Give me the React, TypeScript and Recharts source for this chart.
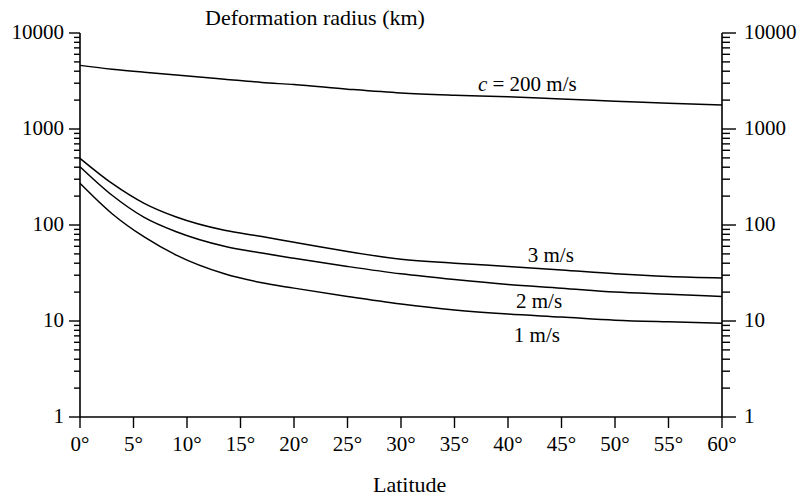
import { LineChart, Line, XAxis, YAxis, ReferenceDot } from 'recharts';

// latitude (deg) and deformation radius (km)
const latitudes = [0, 3, 6, 9, 13.5, 17, 20, 25, 30, 35, 40, 45, 50, 55, 60];
const radius200 = [4600, 4200, 3900, 3650, 3300, 3050, 2900, 2600, 2370, 2250, 2170, 2050, 1950, 1850, 1780];
const radius3 = [495, 271, 168, 121, 88, 76, 66, 53, 44, 40, 37, 34, 31, 29, 28];
const radius2 = [405, 204, 120, 85, 60, 51, 45, 37, 31, 27, 24, 22, 20, 19, 18];
const radius1 = [272, 131, 75, 48.5, 31, 25, 22, 18, 15, 13, 11.8, 11, 10.2, 9.8, 9.5];

const xTicks = [0, 5, 10, 15, 20, 25, 30, 35, 40, 45, 50, 55, 60];
const majorTicks = [1, 10, 100, 1000, 10000];
const minorTicks = [
  2, 3, 4, 5, 6, 7, 8, 9,
  20, 30, 40, 50, 60, 70, 80, 90,
  200, 300, 400, 500, 600, 700, 800, 900,
  2000, 3000, 4000, 5000, 6000, 7000, 8000, 9000,
];

// curve labels: [latitude, radius, text]
const curveLabels: [number, number, string][] = [
  [41.8, 3000, '200'],
  [44.0, 48.7, '3 m/s'],
  [42.9, 16.2, '2 m/s'],
  [42.7, 7.15, '1 m/s'],
];

const data = latitudes.map((lat, i) => ({
  lat,
  c200: radius200[i],
  c3: radius3[i],
  c2: radius2[i],
  c1: radius1[i],
}));

const FONT = '"Liberation Serif", "Times New Roman", serif';
const allYTicks = [...majorTicks, ...minorTicks].sort((a, b) => a - b);

const LeftTick = (props: any) => {
  const { x, y, payload } = props;
  const major = majorTicks.includes(payload.value);
  return (
    <g>
      <line x1={x - (major ? 11 : 6)} x2={x} y1={y} y2={y} stroke="#000" strokeWidth={1.4} />
      {major && (
        <text x={x - 16} y={y} dy="0.28em" textAnchor="end" fill="#000" fontSize={21} fontFamily={FONT}>
          {payload.value}
        </text>
      )}
    </g>
  );
};

const RightTick = (props: any) => {
  const { x, y, payload } = props;
  const major = majorTicks.includes(payload.value);
  return (
    <g>
      <line x1={x} x2={x + (major ? 14 : 8)} y1={y} y2={y} stroke="#000" strokeWidth={1.4} />
      {major && (
        <text x={x + 22} y={y} dy="0.3em" textAnchor="start" fill="#000" fontSize={21} fontFamily={FONT}>
          {payload.value}
        </text>
      )}
    </g>
  );
};

const CurveText = (text: string) => (p: any) => (
  <text x={p.cx} y={p.cy} dy="0.35em" textAnchor="middle" fill="#000" fontSize={21} fontFamily={FONT}>
    {text === '200' ? (
      <>
        <tspan fontStyle="italic">c</tspan> = 200 m/s
      </>
    ) : (
      text
    )}
  </text>
);

export default function App() {
  return (
    <div style={{ position: 'absolute', left: 0, top: 0, width: 802, height: 498, background: '#fff' }}>
      <div style={{ position: 'absolute', left: 205, top: 5, fontFamily: FONT, fontSize: 22, color: '#000', whiteSpace: 'nowrap' }}>
        Deformation radius (km)
      </div>
      <div style={{ position: 'absolute', left: 373, top: 472, fontFamily: FONT, fontSize: 22, color: '#000' }}>
        Latitude
      </div>
      <LineChart width={802} height={498} data={data} margin={{ top: 33, right: 0, bottom: 0, left: 0 }}>
        <XAxis
          dataKey="lat"
          type="number"
          domain={[0, 60]}
          ticks={xTicks}
          interval={0}
          height={81}
          tickSize={11}
          tickMargin={8}
          tickFormatter={(v) => `${v}°`}
          tick={{ fill: '#000', fontSize: 21, fontFamily: FONT }}
          tickLine={{ stroke: '#000', strokeWidth: 1.4 }}
          axisLine={{ stroke: '#000', strokeWidth: 1.6 }}
        />
        <YAxis
          yAxisId="left"
          scale="log"
          domain={[1, 10000]}
          allowDataOverflow
          ticks={allYTicks}
          interval={0}
          width={80}
          tickSize={0}
          tickMargin={0}
          tickLine={false}
          tick={<LeftTick />}
          axisLine={{ stroke: '#000', strokeWidth: 1.6 }}
        />
        <YAxis
          yAxisId="right"
          orientation="right"
          scale="log"
          domain={[1, 10000]}
          allowDataOverflow
          ticks={allYTicks}
          interval={0}
          width={80}
          tickSize={0}
          tickMargin={0}
          tickLine={false}
          tick={<RightTick />}
          axisLine={{ stroke: '#000', strokeWidth: 1.6 }}
        />
        <Line yAxisId="left" dataKey="c200" type="monotone" stroke="#000" strokeWidth={1.5} dot={false} isAnimationActive={false} />
        <Line yAxisId="left" dataKey="c3" type="monotone" stroke="#000" strokeWidth={1.5} dot={false} isAnimationActive={false} />
        <Line yAxisId="left" dataKey="c2" type="monotone" stroke="#000" strokeWidth={1.5} dot={false} isAnimationActive={false} />
        <Line yAxisId="left" dataKey="c1" type="monotone" stroke="#000" strokeWidth={1.5} dot={false} isAnimationActive={false} />
        {curveLabels.map(([lat, r, text]) => (
          <ReferenceDot key={text} yAxisId="left" x={lat} y={r} r={0} shape={CurveText(text)} />
        ))}
      </LineChart>
    </div>
  );
}
